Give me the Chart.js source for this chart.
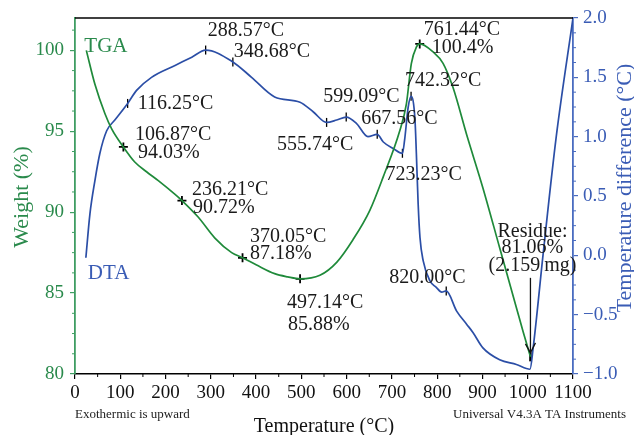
<!DOCTYPE html>
<html>
<head>
<meta charset="utf-8">
<script src="https://cdn.jsdelivr.net/npm/chart.js@4/dist/chart.umd.min.js"></script>
<style>
html,body{margin:0;padding:0;background:#fff;}
canvas{display:block;}
</style>
</head>
<body>
<canvas id="c" width="634" height="435"></canvas>
<script>
// ---------- data ----------
const tgaTemp = [25, 44, 66, 81, 106.87, 132, 158, 184, 221, 236.21, 272, 309, 346, 370.05, 400, 441, 470, 497.14, 541, 578, 614, 651, 681, 717, 732, 743, 754, 761.44, 791, 813, 835, 865, 901, 938, 975, 990, 1006];
const tgaWeight = [100, 97.9, 96.1, 95.15, 94.03, 93.1, 92.5, 91.95, 91.1, 90.72, 89.7, 88.4, 87.5, 87.18, 86.75, 86.2, 86.0, 85.88, 86.1, 86.9, 88.3, 90.1, 92.2, 95.0, 96.7, 99.2, 100.2, 100.4, 99.9, 99.2, 97.7, 94.8, 91.5, 87.8, 84.1, 82.6, 81.06];

const dtaTemp = [24, 33, 44, 55, 70, 88, 116.25, 136, 169, 221, 258, 288.57, 348.68, 390, 441, 497, 526, 555.74, 578, 599.09, 622, 647, 667.56, 681, 703, 723.23, 728, 736, 742.32, 751, 754, 758, 762, 769, 784, 798, 810, 820, 843, 865, 879, 901, 938, 975, 1005, 1012, 1034, 1063, 1100];
const dtaDiff = [-0.02, 0.35, 0.63, 0.86, 1.05, 1.14, 1.28, 1.39, 1.50, 1.60, 1.67, 1.73, 1.63, 1.50, 1.335, 1.29, 1.21, 1.12, 1.14, 1.165, 1.11, 1.0, 1.02, 0.955, 0.90, 0.86, 0.97, 1.25, 1.34, 1.14, 0.86, 0.43, 0.15, -0.045, -0.215, -0.27, -0.31, -0.30, -0.47, -0.58, -0.65, -0.78, -0.88, -0.92, -0.96, -0.78, 0.01, 1.0, 2.0];

const tgaMarkTemp = [106.87, 236.21, 370.05, 497.14, 761.44];
const tgaMarkWeight = [94.03, 90.72, 87.18, 85.88, 100.4];
const dtaMarkTemp = [116.25, 288.57, 348.68, 555.74, 599.09, 667.56, 723.23, 742.32, 820.00];
const dtaMarkDiff = [1.28, 1.73, 1.63, 1.12, 1.165, 1.02, 0.86, 1.34, -0.30];
const residueTemp = 1006;
const residueWeight = 81.06;
const residueMass = 2.159;

const xTicks = [0, 100, 200, 300, 400, 500, 600, 700, 800, 900, 1000, 1100];
const leftTicks = [80, 85, 90, 95, 100];
const rightTicks = [-1.0, -0.5, 0.0, 0.5, 1.0, 1.5, 2.0];

// ---------- styles ----------
const GREEN = '#1f8a3a', GREEN_AX = '#3f9d63', GREEN_TXT = '#2a8a4c';
const BLUE = '#2b4ea6', BLUE_AX = '#4a6cc0', BLUE_TXT = '#3a5cb5';
const SERIF = '"Liberation Serif", "DejaVu Serif", serif';

const pts = (xs, ys) => xs.map((x, i) => ({x: x, y: ys[i]}));

// label offsets (pixels) relative to marker points
const tgaLabelLayout = [
  [[11.6, -7], [14.6, 11]],
  [[10, -5.5], [11, 12.5]],
  [[7.5, -16], [7.5, 1]],
  [[-13, 29], [-12, 51]],
  [[4, -9], [12, 9]]
];
const tgaPctDigits = [2, 2, 2, 2, 1];
const dtaLabelLayout = [[10, 6], [2, -14], [1, -5], [-49.6, 27.6], [-23, -15], [-16, -10], [-17, 27], [-6, -10], [-57, -8]];

const fmtC = v => v.toFixed(2) + '\u00B0C';

const decor = {
  id: 'decor',
  afterDraw(chart) {
    const ctx = chart.ctx, ca = chart.chartArea;
    const sx = chart.scales.x, sl = chart.scales.yL, sr = chart.scales.yR;
    ctx.save();
    // top frame line
    ctx.strokeStyle = '#000'; ctx.lineWidth = 1.5;
    ctx.beginPath(); ctx.moveTo(ca.left, ca.top); ctx.lineTo(ca.right, ca.top); ctx.stroke();
    // minor ticks
    ctx.lineWidth = 1;
    ctx.strokeStyle = '#000';
    for (let v = 50; v < 1100; v += 100) {
      const p = sx.getPixelForValue(v);
      ctx.beginPath(); ctx.moveTo(p, ca.bottom); ctx.lineTo(p, ca.bottom + 3); ctx.stroke();
    }
    ctx.strokeStyle = GREEN_AX;
    for (let v = 80; v <= 102; v += 1.25) {
      if (Math.abs(v % 5) < 1e-6) continue;
      const p = sl.getPixelForValue(v);
      ctx.beginPath(); ctx.moveTo(ca.left, p); ctx.lineTo(ca.left - 3, p); ctx.stroke();
    }
    ctx.strokeStyle = BLUE_AX;
    for (let v = -1; v <= 2; v += 0.125) {
      if (Math.abs((v * 2) - Math.round(v * 2)) < 1e-6) continue;
      const p = sr.getPixelForValue(v);
      ctx.beginPath(); ctx.moveTo(ca.right, p); ctx.lineTo(ca.right + 3, p); ctx.stroke();
    }

    // annotations
    ctx.fillStyle = '#1a1a1a';
    ctx.font = '20px ' + SERIF;
    ctx.textAlign = 'left'; ctx.textBaseline = 'alphabetic';
    tgaMarkTemp.forEach((t, i) => {
      const px = sx.getPixelForValue(t), py = sl.getPixelForValue(tgaMarkWeight[i]);
      const L = tgaLabelLayout[i];
      ctx.fillText(fmtC(t), px + L[0][0], py + L[0][1]);
      ctx.fillText(tgaMarkWeight[i].toFixed(tgaPctDigits[i]) + '%', px + L[1][0], py + L[1][1]);
    });
    dtaMarkTemp.forEach((t, i) => {
      const px = sx.getPixelForValue(t), py = sr.getPixelForValue(dtaMarkDiff[i]);
      const o = dtaLabelLayout[i];
      ctx.fillText(fmtC(t), px + o[0], py + o[1]);
    });

    // residue arrow and text
    const ax = sx.getPixelForValue(residueTemp);
    const tip = sl.getPixelForValue(residueWeight) - 4;
    const top = tip - 75;
    ctx.strokeStyle = '#111'; ctx.lineWidth = 1.3;
    ctx.beginPath(); ctx.moveTo(ax, top); ctx.lineTo(ax, tip); ctx.stroke();
    ctx.beginPath(); ctx.moveTo(ax - 5, tip - 9); ctx.lineTo(ax, tip); ctx.lineTo(ax + 5, tip - 10); ctx.stroke();
    ctx.textAlign = 'center';
    ctx.fillText('Residue:', ax + 2, top - 41);
    ctx.fillText(residueWeight.toFixed(2) + '%', ax + 2, top - 25);
    ctx.fillText('(' + residueMass.toFixed(3) + '\u2009mg)', ax + 2, top - 7);

    // series names
    ctx.textAlign = 'left';
    ctx.font = '21px ' + SERIF;
    ctx.fillStyle = GREEN_TXT;
    ctx.fillText('TGA', sx.getPixelForValue(tgaTemp[0]) - 2, sl.getPixelForValue(tgaWeight[0]) + 2);
    ctx.fillStyle = BLUE_TXT;
    ctx.fillText('DTA', sx.getPixelForValue(dtaTemp[0]) + 2, sr.getPixelForValue(dtaDiff[0]) + 21);

    // axis titles
    ctx.font = '20px ' + SERIF;
    ctx.textAlign = 'center';
    ctx.fillStyle = '#111';
    ctx.fillText('Temperature (\u00B0C)', (ca.left + ca.right) / 2, 432);
    ctx.font = '22px ' + SERIF;
    ctx.save();
    ctx.translate(28, 197);
    ctx.rotate(-Math.PI / 2);
    ctx.fillStyle = GREEN_TXT;
    ctx.fillText('Weight (%)', 0, 0);
    ctx.restore();
    ctx.save();
    ctx.translate(631, 188);
    ctx.rotate(-Math.PI / 2);
    ctx.fillStyle = BLUE_TXT;
    ctx.fillText('Temperature difference (\u00B0C)', 0, 0);
    ctx.restore();

    // footnotes
    ctx.font = '13px ' + SERIF;
    ctx.fillStyle = '#222';
    ctx.textAlign = 'left';
    ctx.fillText('Exothermic is upward', 75, 418);
    ctx.textAlign = 'right';
    ctx.fillText('Universal V4.3A TA Instruments', 626, 418);
    ctx.restore();
  }
};

new Chart(document.getElementById('c'), {
  type: 'line',
  data: {
    datasets: [
      {label: 'TGA', data: pts(tgaTemp, tgaWeight), xAxisID: 'x', yAxisID: 'yL',
       borderColor: GREEN, borderWidth: 1.7, pointRadius: 0, cubicInterpolationMode: 'monotone', fill: false},
      {label: 'DTA', data: pts(dtaTemp, dtaDiff), xAxisID: 'x', yAxisID: 'yR',
       borderColor: BLUE, borderWidth: 1.7, pointRadius: 0, cubicInterpolationMode: 'monotone', fill: false},
      {label: 'TGA marks', data: pts(tgaMarkTemp, tgaMarkWeight), xAxisID: 'x', yAxisID: 'yL', showLine: false,
       pointStyle: 'cross', pointRadius: 4.5, pointBorderColor: '#000', pointBorderWidth: 1.8},
      {label: 'DTA marks', data: pts(dtaMarkTemp, dtaMarkDiff), xAxisID: 'x', yAxisID: 'yR', showLine: false,
       pointStyle: 'line', pointRotation: 90, pointRadius: 4.5, pointBorderColor: '#000', pointBorderWidth: 1.3},
      {label: 'Residue', data: [{x: residueTemp, y: residueWeight}], xAxisID: 'x', yAxisID: 'yL', showLine: false,
       pointStyle: 'line', pointRotation: 90, pointRadius: 4.5, pointBorderColor: '#000', pointBorderWidth: 2.5}
    ]
  },
  options: {
    responsive: false,
    devicePixelRatio: 1,
    animation: false,
    layout: {padding: {top: 18, left: 0, right: 0, bottom: 0}},
    plugins: {legend: {display: false}, tooltip: {enabled: false}},
    scales: {
      x: {
        type: 'linear', position: 'bottom', min: 0, max: 1100,
        afterBuildTicks: s => { s.ticks = xTicks.map(v => ({value: v})); },
        afterFit: s => { s.height = 61; },
        border: {display: true, color: '#000', width: 1.5},
        grid: {display: true, drawOnChartArea: false, drawTicks: true, tickLength: 5, color: '#000', lineWidth: 1.2},
        ticks: {color: '#111', font: {family: SERIF, size: 19}, padding: 3, maxRotation: 0, autoSkip: false,
                callback: v => String(v)}
      },
      yL: {
        type: 'linear', position: 'left', min: 80, max: 102,
        afterBuildTicks: s => { s.ticks = leftTicks.map(v => ({value: v})); },
        afterFit: s => { s.width = 75; },
        border: {display: true, color: GREEN_AX, width: 1.8},
        grid: {display: true, drawOnChartArea: false, drawTicks: true, tickLength: 5, color: GREEN_AX, lineWidth: 1.2},
        ticks: {color: GREEN_TXT, font: {family: SERIF, size: 19}, padding: 6, callback: v => String(v)}
      },
      yR: {
        type: 'linear', position: 'right', min: -1, max: 2,
        afterBuildTicks: s => { s.ticks = rightTicks.map(v => ({value: v})); },
        afterFit: s => { s.width = 61; },
        border: {display: true, color: BLUE_AX, width: 1.8},
        grid: {display: true, drawOnChartArea: false, drawTicks: true, tickLength: 5, color: BLUE_AX, lineWidth: 1.2},
        ticks: {color: BLUE_TXT, font: {family: SERIF, size: 19}, padding: 5,
                callback: v => v.toFixed(1).replace('-', '\u2212')}
      }
    }
  },
  plugins: [decor]
});
</script>
</body>
</html>
